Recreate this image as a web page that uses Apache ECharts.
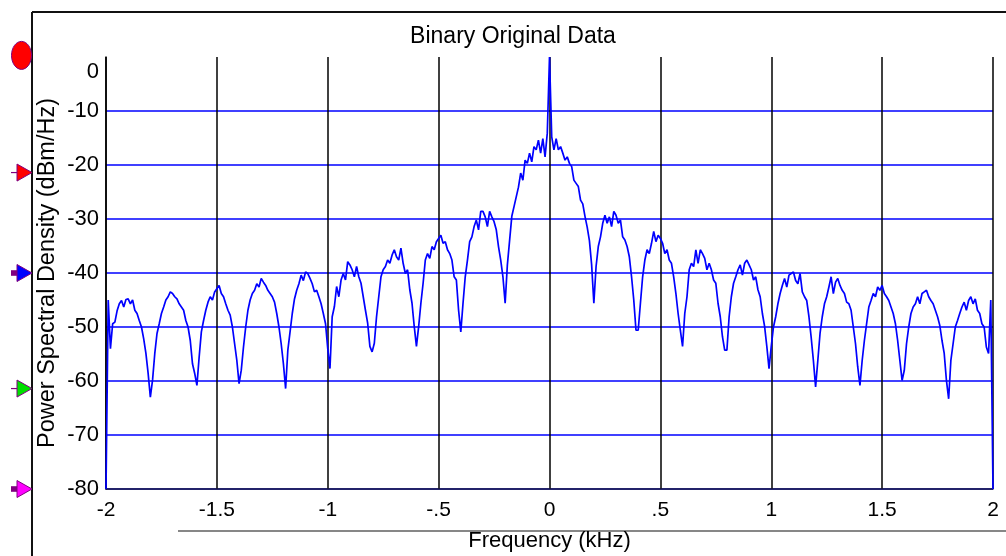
<!DOCTYPE html>
<html>
<head>
<meta charset="utf-8">
<script src="https://cdn.jsdelivr.net/npm/echarts@6/dist/echarts.min.js"></script>
<style>
  html, body { margin: 0; padding: 0; background: #ffffff; }
  #chart { width: 1006px; height: 556px; }
</style>
</head>
<body>
<div id="chart"></div>
<script>
// Power spectral density of the binary source, sampled every 0.01 kHz.
const freqStart = -2;
const freqStep = 0.01;

// -2.00 ... -0.01 kHz (dBm/Hz)
const psdNeg = [
  -80, -45, -54, -49.4, -49.1, -47, -45.7, -45.1, -46.3, -44.9,
  -44.8, -45.7, -45, -46.9, -47.5, -48.8, -50, -52.2, -54.9, -58.6,
  -63, -59.8, -54.9, -51.2, -49.4, -47.5, -46.3, -45, -44.4, -43.5,
  -43.8, -44.4, -44.8, -45.7, -46.3, -46.9, -48.8, -50, -52.5, -56.8,
  -58.6, -60.8, -55.6, -50.9, -48.8, -46.9, -45.4, -44.4, -45, -43.5,
  -42.9, -42.3, -43.8, -44.4, -45.7, -46.9, -47.8, -50, -53.1, -56.2,
  -60.5, -58, -53.7, -50, -46.9, -45, -43.8, -43.2, -42, -42.6,
  -41, -41.7, -42.3, -43.2, -43.8, -44.4, -45.4, -47.5, -50, -53.1,
  -56.8, -61.4, -54.3, -50.9, -47.5, -44.8, -43.2, -42, -40.4, -41.4,
  -39.8, -40.1, -41, -42, -43.5, -43.2, -44.4, -45.7, -47.5, -49.4,
  -54, -57.7, -48.1, -46.2, -42.5, -44.4, -41.3, -40.1, -41.3, -37.9,
  -38.5, -39.4, -40.7, -38.8, -40.7, -41.9, -44.4, -46.9, -49.3, -53.6,
  -54.6, -53, -48.1, -44.4, -40.7, -39.4, -38.8, -37.6, -38.2, -36.7,
  -35.7, -37, -37.6, -35.4, -38.2, -40.1, -39.4, -43.1, -45.6, -49.9,
  -53.6, -49.9, -45.6, -41.9, -37.6, -36.4, -37.3, -35.1, -35.7, -34.2,
  -33.6, -33, -34.5, -34.2, -35.7, -36.4, -37.6, -40.7, -41.3, -46.9,
  -50.9, -45.6, -40.7, -37.6, -34.2, -33.3, -31.4, -30.2, -32, -28.6,
  -28.6, -29.6, -31.4, -28.6, -29.6, -30.5, -32, -35.1, -37.6, -40.7,
  -45.6, -38.5, -34, -29.5, -27.7, -25.9, -24.1, -21.5, -22.8, -19.1,
  -19.7, -17.8, -19.4, -16.6, -17.2, -15.4, -17.8, -15.1, -18.5, -14.1
];

// 0.00 kHz (carrier line)
const psdCarrier = [0];

// 0.01 ... 2.00 kHz (dBm/Hz)
const psdPos = [
  -14.8, -17.2, -15.1, -17.2, -16.6, -17.8, -19.1, -18.5, -19.7, -20.3,
  -22.8, -23.4, -24, -26.5, -27.2, -29.5, -31.5, -34, -38.5, -45.6,
  -38.8, -35.1, -33.3, -30.8, -29.3, -30.8, -29.6, -31.4, -28.6, -29.3,
  -30.8, -30.2, -33.3, -33.9, -35.1, -37, -40.7, -45, -50.6, -50.6,
  -45.6, -40.7, -37.6, -35.7, -36.4, -34.5, -32.3, -34.2, -33, -33.6,
  -34.5, -36.4, -35.7, -37.6, -38.2, -40.7, -43.8, -47.5, -50.6, -53.6,
  -47.5, -44.4, -39.4, -38.2, -38.8, -35.7, -38.2, -35.7, -36.4, -37.3,
  -39.4, -38.2, -39.4, -41.3, -41.9, -45.6, -48.1, -51.8, -54.3, -54.3,
  -48.1, -44.4, -41.9, -40.7, -39.4, -38.5, -40.4, -38.2, -37.6, -38.5,
  -39.4, -41.3, -40.7, -43.1, -44.4, -47.5, -49.9, -53.6, -57.7, -53.6,
  -50, -48.1, -45.7, -43.8, -42.3, -41, -42.6, -40.4, -40.1, -39.8,
  -41.4, -42, -40.1, -43.5, -44.4, -45.1, -48.1, -51.9, -56.2, -61.1,
  -56.2, -51.2, -48.1, -45.7, -44.4, -42.6, -40.7, -43.8, -41.7, -41,
  -42.3, -43.2, -43.8, -45.4, -45.7, -46.9, -50, -53.1, -57.4, -60.8,
  -56.2, -52.5, -49.4, -46.3, -45.1, -43.8, -44.4, -42.6, -43.2, -42.3,
  -43.8, -44.4, -45.1, -46.3, -47.5, -49.4, -52.5, -56.2, -59.9, -58,
  -53.1, -50, -47.5, -46.3, -45.7, -44.4, -45.7, -43.8, -43.5, -43.2,
  -44.4, -45.1, -45.7, -46.9, -48.1, -49.7, -52.5, -54.9, -59.9, -63.3,
  -56.2, -53.1, -50, -48.8, -47.5, -46.3, -45.4, -46.9, -45.1, -44.4,
  -45.7, -44.8, -46.9, -47.5, -49.4, -50, -53.7, -54.9, -45, -80
];

const xTickLabels = ['-2', '-1.5', '-1', '-.5', '0', '.5', '1', '1.5', '2'];
const yTickLabels = ['-80', '-70', '-60', '-50', '-40', '-30', '-20', '-10', '0'];

// Level markers along the left edge (dBm/Hz) and their fills
const markerLevels = [-21.4, -40, -61.4, -80];
const markerFills = ['#ff0000', '#0000ff', '#00e000', '#ff00ff'];
const markerStubs = ['line', 'square', 'line', 'square'];
const refMarkerLevel = 0.3;

const FONT = "'Liberation Sans', Arial, sans-serif";

const psdAll = psdNeg.concat(psdCarrier, psdPos);
const seriesData = psdAll.map((v, i) => [+(freqStart + i * freqStep).toFixed(2), v]);

const chart = echarts.init(document.getElementById('chart'), null, { renderer: 'canvas' });

chart.setOption({
  animation: false,
  backgroundColor: '#ffffff',
  grid: { left: 106, right: 13, top: 57, bottom: 67, containLabel: false, outerBoundsMode: 'none' },
  xAxis: {
    type: 'value',
    min: -2, max: 2, interval: 0.5,
    name: 'Frequency (kHz)',
    nameLocation: 'middle',
    nameGap: 41,
    nameMoveOverlap: false,
    nameTextStyle: { color: '#000', fontFamily: FONT, fontSize: 22 },
    axisLine: { show: true, onZero: false, lineStyle: { color: '#1a1a3a', width: 1.5 } },
    axisTick: { show: false },
    axisLabel: {
      color: '#000', fontFamily: FONT, fontSize: 21, margin: 11,
      showMinLabel: true, showMaxLabel: true,
      formatter: v => xTickLabels[Math.round((v + 2) / 0.5)]
    },
    splitLine: { show: true, lineStyle: { color: '#000000', width: 1.5 } }
  },
  yAxis: {
    type: 'value',
    min: -80, max: 0, interval: 10,
    name: 'Power Spectral Density (dBm/Hz)',
    nameLocation: 'middle',
    nameGap: 46,
    nameMoveOverlap: false,
    nameTextStyle: { color: '#000', fontFamily: FONT, fontSize: 23.5 },
    axisLine: { show: true, onZero: false, lineStyle: { color: '#000000', width: 1.5 } },
    axisTick: { show: false },
    axisLabel: {
      color: '#000', fontFamily: FONT, fontSize: 22, margin: 7,
      formatter: v => {
        const label = yTickLabels[Math.round((v + 80) / 10)];
        return v === 0 ? '{top|' + label + '}' : label;
      },
      rich: { top: { padding: [29, 0, 0, 0], fontSize: 22, fontFamily: FONT, color: '#000' } }
    },
    splitLine: { show: true, showMaxLine: false, lineStyle: { color: '#0000ff', width: 1.5 } }
  },
  series: [{
    type: 'line',
    data: seriesData,
    showSymbol: false,
    clip: true,
    lineStyle: { color: '#0000ff', width: 1.7 },
    z: 5
  }]
});

// Frame, title and the level markers on the left edge
function yPix(level) { return chart.convertToPixel({ yAxisIndex: 0 }, level); }

const graphics = [
  { type: 'line', shape: { x1: 32, y1: 12, x2: 1006, y2: 12 }, style: { stroke: '#111', lineWidth: 2 } },
  { type: 'line', shape: { x1: 32, y1: 12, x2: 32, y2: 556 }, style: { stroke: '#111', lineWidth: 2 } },
  { type: 'line', shape: { x1: 178, y1: 531, x2: 1006, y2: 531 }, style: { stroke: '#111', lineWidth: 1.2 } },
  {
    type: 'text', x: 513, y: 37,
    style: { text: 'Binary Original Data', fill: '#000', font: '23px ' + FONT, textAlign: 'center', textVerticalAlign: 'middle' }
  },
  {
    type: 'ellipse', shape: { cx: 21.5, cy: yPix(refMarkerLevel), rx: 10, ry: 14 },
    style: { fill: '#ff0000', stroke: '#800080', lineWidth: 1 }, z: 10
  }
];

markerLevels.forEach((lv, i) => {
  const cy = yPix(lv);
  if (markerStubs[i] === 'line') {
    graphics.push({ type: 'line', shape: { x1: 11, y1: cy, x2: 17, y2: cy }, style: { stroke: '#800080', lineWidth: 1.2 }, z: 10 });
  } else {
    graphics.push({ type: 'rect', shape: { x: 11, y: cy - 2.8, width: 6, height: 5.6 }, style: { fill: '#800080' }, z: 10 });
  }
  graphics.push({
    type: 'polygon',
    shape: { points: [[17, cy - 8.5], [32, cy], [17, cy + 8.5]] },
    style: { fill: markerFills[i], stroke: '#800080', lineWidth: 1 },
    z: 10
  });
});

chart.setOption({ graphic: graphics });
</script>
</body>
</html>
